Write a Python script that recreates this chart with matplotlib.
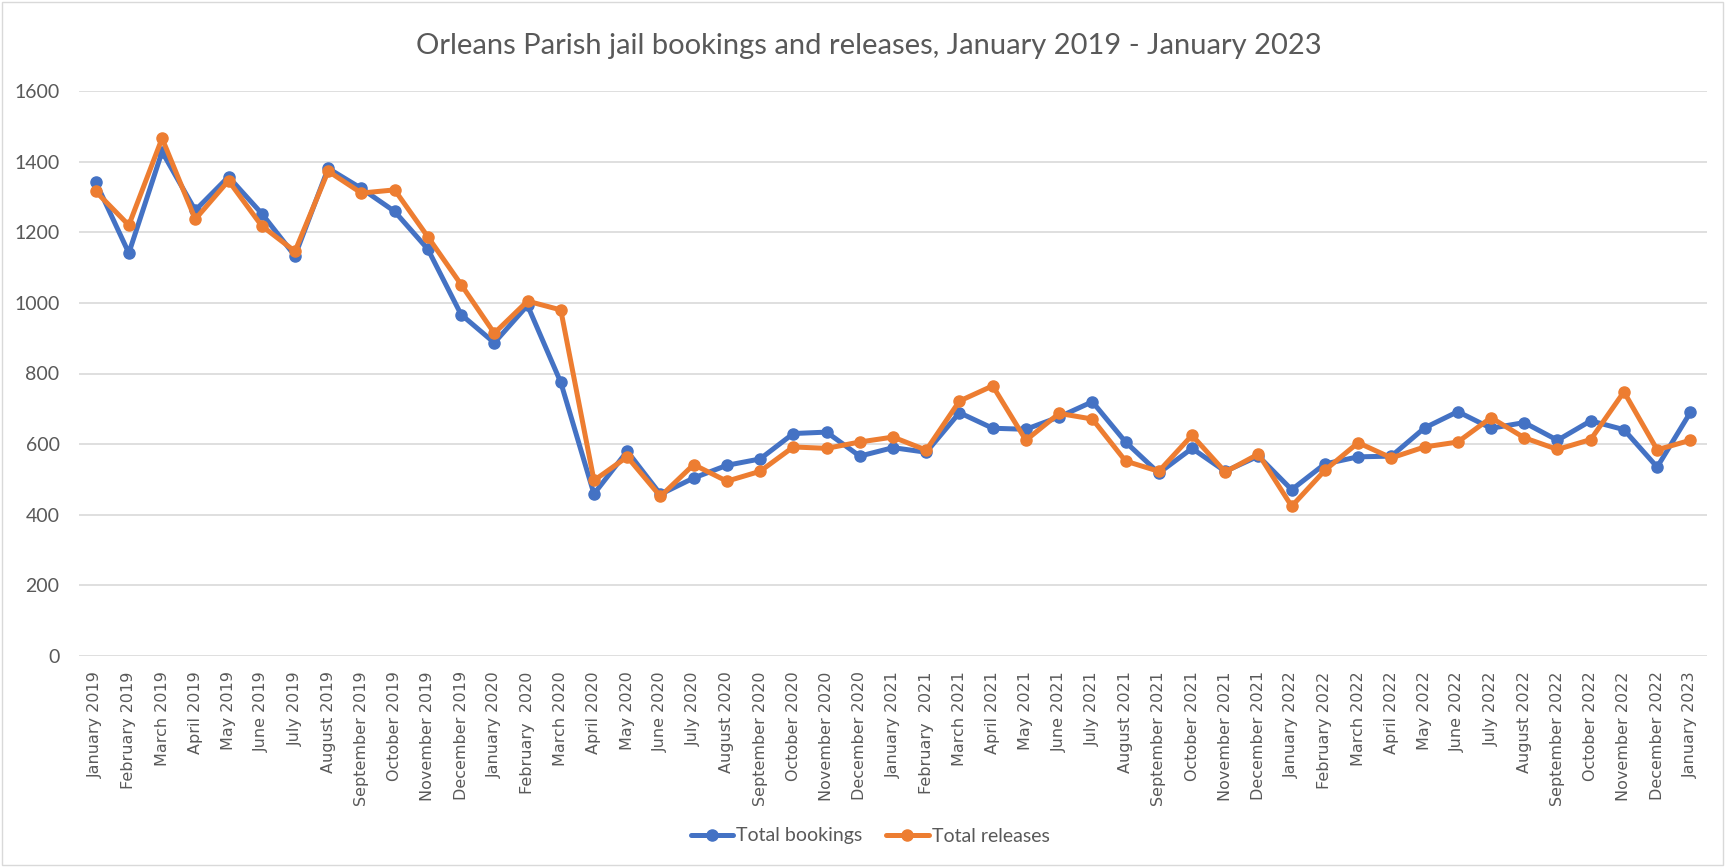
import matplotlib
matplotlib.use("Agg")
import matplotlib.pyplot as plt
from matplotlib import font_manager
from matplotlib.patches import Rectangle

months = ["January 2019", "February 2019", "March 2019", "April 2019", "May 2019", "June 2019",
          "July 2019", "August 2019", "September 2019", "October 2019", "November 2019", "December 2019",
          "January 2020", "February  2020", "March 2020", "April 2020", "May 2020", "June 2020",
          "July 2020", "August 2020", "September 2020", "October 2020", "November 2020", "December 2020",
          "January 2021", "February  2021", "March 2021", "April 2021", "May 2021", "June 2021",
          "July 2021", "August 2021", "September 2021", "October 2021", "November 2021", "December 2021",
          "January 2022", "February 2022", "March 2022", "April 2022", "May 2022", "June 2022",
          "July 2022", "August 2022", "September 2022", "October 2022", "November 2022", "December 2022",
          "January 2023"]

total_bookings = [1343, 1141, 1428, 1262, 1357, 1253, 1133, 1381, 1324, 1259, 1152, 967,
                  887, 993, 775, 459, 580, 458, 504, 540, 558, 630, 634, 566,
                  590, 577, 689, 645, 642, 677, 720, 606, 518, 588, 523, 566,
                  471, 544, 564, 566, 646, 692, 645, 661, 611, 666, 641, 535,
                  690]

total_releases = [1316, 1220, 1466, 1237, 1346, 1218, 1146, 1373, 1311, 1320, 1187, 1052,
                  914, 1005, 980, 497, 564, 452, 542, 495, 523, 592, 588, 606,
                  620, 583, 722, 765, 611, 687, 671, 552, 523, 625, 521, 572,
                  424, 526, 604, 561, 592, 606, 675, 618, 585, 613, 748, 584,
                  611]

available = {f.name for f in font_manager.fontManager.ttflist}
narrow = "Liberation Sans Narrow" if "Liberation Sans Narrow" in available else "Lato"

W, H = 1725, 867
fig = plt.figure(figsize=(W / 100, H / 100), dpi=100)
fig.patch.set_facecolor("white")
fig.patches.append(Rectangle((2 / W, 2 / H), 1 - 4 / W, 1 - 4 / H, transform=fig.transFigure,
                             fill=False, edgecolor="#D9D9D9", linewidth=1))

ax = fig.add_axes([79 / W, 1 - 656 / H, (1707 - 79) / W, (656 - 91) / H])
x = list(range(len(months)))
ax.plot(x, total_bookings, color="#4472C4", lw=3.6, marker="o", ms=8,
        solid_capstyle="round", solid_joinstyle="round", label="Total bookings", zorder=3)
ax.plot(x, total_releases, color="#ED7D31", lw=3.6, marker="o", ms=8,
        solid_capstyle="round", solid_joinstyle="round", label="Total releases", zorder=4)

ax.set_xlim(-0.5, len(months) - 0.5)
ax.set_ylim(0, 1600)
ax.set_yticks(range(0, 1601, 200))
ax.yaxis.grid(True, color="#D9D9D9", lw=1.2)
ax.set_axisbelow(True)
for s in ax.spines.values():
    s.set_visible(False)
ax.tick_params(axis="both", length=0)
ax.set_xticks(x)
ax.set_xticklabels(months, rotation=90, fontsize=11.5, color="#595959", family="DejaVu Sans")
ax.tick_params(axis="x", pad=11)
for lab in ax.get_yticklabels():
    lab.set_family(narrow)
    lab.set_fontsize(14)
    lab.set_color("#595959")
ax.tick_params(axis="y", pad=14)

fig.text(869 / W, 1 - 46 / H, "Orleans Parish jail bookings and releases, January 2019 - January 2023",
         ha="center", va="center", fontsize=21, color="#595959", family=narrow)

leg = fig.legend(loc="center", bbox_to_anchor=(870 / W, 1 - 836 / H), ncol=2, frameon=False,
                 prop={"family": narrow, "size": 14}, handlelength=2.2, columnspacing=1.2,
                 handletextpad=0.15)
for t in leg.get_texts():
    t.set_color("#595959")

fig.savefig("out.png", dpi=100, facecolor="white")
